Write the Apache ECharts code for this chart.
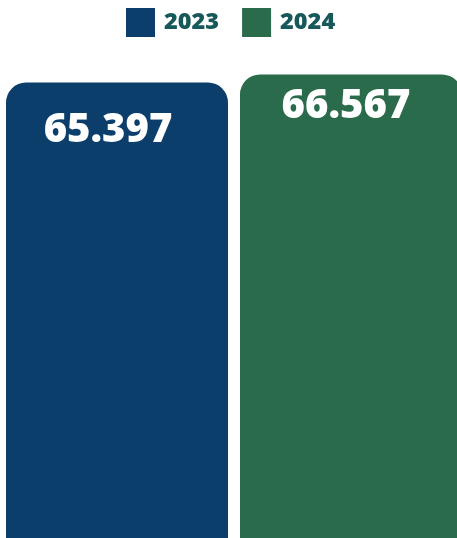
<!DOCTYPE html>
<html>
<head>
<meta charset="utf-8">
<script src="https://cdn.jsdelivr.net/npm/echarts@6/dist/echarts.min.js"></script>
<style>
  html, body { margin: 0; padding: 0; background: #fff; }
  #chart { width: 457px; height: 538px; }
</style>
</head>
<body>
<div id="chart"></div>
<script>
// data
var categories = ['Total']
var years = ['2023', '2024']
var values2023 = [65.397]
var values2024 = [66.567]
var colors = ['#0c3e6c', '#2a6b4c']

var chart = echarts.init(document.getElementById('chart'))

function labelFor(pos) {
  return {
    show: true,
    position: pos,
    align: 'center',
    verticalAlign: 'middle',
    color: '#fff',
    fontFamily: 'Open Sans',
    fontWeight: 800,
    fontSize: 40,
    formatter: function(p) {
      return p.value.toFixed(3)
    }
  }
}

chart.setOption({
  animation: false,
  color: colors,
  legend: {
    top: 3,
    left: 121,
    itemWidth: 29,
    itemHeight: 29,
    itemGap: 23,
    icon: 'rect',
    textStyle: {
      color: '#17585a',
      fontFamily: 'Open Sans',
      fontWeight: 800,
      fontSize: 23.5,
      padding: [0, 0, 0, 4]
    },
    data: years
  },
  grid: {
    left: 6,
    width: 456,
    top: 50.5,
    bottom: 0,
    outerBoundsMode: 'none',
    containLabel: false
  },
  xAxis: {
    type: 'category',
    data: categories,
    show: false
  },
  yAxis: {
    type: 'value',
    min: 0,
    max: 70,
    show: false,
    splitLine: { show: false }
  },
  series: [
    {
      name: years[0],
      type: 'bar',
      data: values2023,
      barWidth: 222,
      barGap: '5.4%',
      itemStyle: { borderRadius: [20, 20, 0, 0] },
      label: labelFor([102, 48])
    },
    {
      name: years[1],
      type: 'bar',
      data: values2024,
      barWidth: 222,
      itemStyle: { borderRadius: [20, 20, 0, 0] },
      label: labelFor([106, 32])
    }
  ]
})
</script>
</body>
</html>
